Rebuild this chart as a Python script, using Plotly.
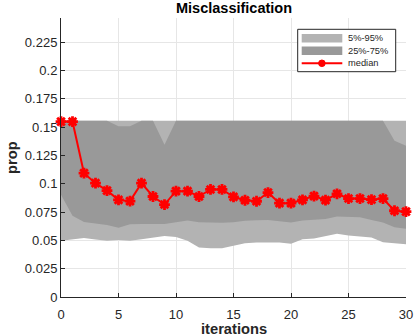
import plotly.graph_objects as go

iterations = list(range(31))
median = [0.155, 0.155, 0.1094, 0.1006, 0.0940, 0.0858, 0.0847, 0.1006, 0.0888, 0.0817,
          0.0935, 0.0935, 0.0888, 0.0950, 0.0950, 0.0885, 0.0855, 0.0846, 0.0923, 0.0829,
          0.0829, 0.0858, 0.0891, 0.0856, 0.0912, 0.0870, 0.0870, 0.0860, 0.0870, 0.0762, 0.0754]
p95 = [0.1558] * 31
p75 = [0.1558, 0.1558, 0.1558, 0.1558, 0.1558, 0.1508, 0.1508, 0.1558, 0.1558, 0.1345,
       0.1558, 0.1558, 0.1558, 0.1558, 0.1558, 0.1558, 0.1558, 0.1558, 0.1558, 0.1558,
       0.1558, 0.1558, 0.1558, 0.1558, 0.1558, 0.1558, 0.1558, 0.1558, 0.1558, 0.1380, 0.1336]
p25 = [0.0903, 0.0718, 0.0662, 0.0648, 0.0637, 0.0612, 0.0643, 0.0646, 0.0649, 0.0646,
       0.0661, 0.0676, 0.0661, 0.0655, 0.0655, 0.0661, 0.0673, 0.0678, 0.0681, 0.0670,
       0.0658, 0.0676, 0.0681, 0.0690, 0.0711, 0.0711, 0.0705, 0.0681, 0.0658, 0.0617, 0.0602]
p5 = [0.0498, 0.0510, 0.0522, 0.0507, 0.0498, 0.0504, 0.0498, 0.0510, 0.0525, 0.0540,
      0.0531, 0.0496, 0.0438, 0.0431, 0.0431, 0.0451, 0.0475, 0.0481, 0.0481, 0.0481,
      0.0470, 0.0510, 0.0516, 0.0534, 0.0558, 0.0543, 0.0534, 0.0525, 0.0484, 0.0478, 0.0466]
ytickvals = [0, 0.025, 0.05, 0.075, 0.1, 0.125, 0.15, 0.175, 0.2, 0.225]
yticktext = ["0", "0.025", "0.05", "0.075", "0.1", "0.125", "0.15", "0.175", "0.2", "0.225"]
xtickvals = [0, 5, 10, 15, 20, 25, 30]
legend_labels = ["5%-95%", "25%-75%", "median"]

LIGHT = "#b3b3b3"
DARK = "#999999"
RED = "#ff0000"
TXT = "#262626"
FONT = "Liberation Sans, Arial, Helvetica, sans-serif"

W, H = 414, 336
ML, MR, MT, MB = 61, 8, 18, 39
PW, PH = W - ML - MR, H - MT - MB

def px(x):
    return (x - ML) / PW

def py(y):
    return (H - MB - y) / PH

fig = go.Figure()
fig.add_trace(go.Scatter(
    x=iterations + iterations[::-1], y=p5 + p95[::-1], fill="toself",
    fillcolor=LIGHT, line=dict(width=0, color=LIGHT), mode="lines",
    hoverinfo="skip", showlegend=False))
fig.add_trace(go.Scatter(
    x=iterations + iterations[::-1], y=p25 + p75[::-1], fill="toself",
    fillcolor=DARK, line=dict(width=0, color=DARK), mode="lines",
    hoverinfo="skip", showlegend=False))
fig.add_trace(go.Scatter(
    x=iterations, y=median, mode="lines+markers",
    line=dict(color=RED, width=2),
    marker=dict(symbol="asterisk-open", size=9, color=RED, line=dict(color=RED, width=2.8)),
    showlegend=False, cliponaxis=False))

# custom legend
shapes = []
annotations = []
lx0, lx1, ly0, ly1 = 297.7, 395.7, 29.3, 71.7
shapes.append(dict(type="rect", xref="paper", yref="paper", x0=px(lx0), x1=px(lx1),
                   y0=py(ly1), y1=py(ly0), line=dict(color=TXT, width=1), fillcolor="white", layer="above"))
rows = [38.3, 50.8, 63.3]
shapes.append(dict(type="rect", xref="paper", yref="paper", x0=px(301.7), x1=px(342.3),
                   y0=py(rows[0] + 4.2), y1=py(rows[0] - 4.2), line=dict(width=0), fillcolor=LIGHT, layer="above"))
shapes.append(dict(type="rect", xref="paper", yref="paper", x0=px(301.7), x1=px(342.3),
                   y0=py(rows[1] + 4.2), y1=py(rows[1] - 4.2), line=dict(width=0), fillcolor=DARK, layer="above"))
shapes.append(dict(type="line", xref="paper", yref="paper", x0=px(301.7), x1=px(342.3),
                   y0=py(rows[2]), y1=py(rows[2]), line=dict(color=RED, width=2), layer="above"))
shapes.append(dict(type="circle", xref="paper", yref="paper", x0=px(321.9 - 3.3), x1=px(321.9 + 3.3),
                   y0=py(rows[2] + 3.3), y1=py(rows[2] - 3.3), line=dict(color=RED, width=1), fillcolor=RED, layer="above"))
for lab, r in zip(legend_labels, rows):
    annotations.append(dict(text=lab, xref="paper", yref="paper", x=px(346), y=py(r),
                            xanchor="left", yanchor="middle", showarrow=False,
                            font=dict(family=FONT, size=9.3, color=TXT)))

# axis titles and title
annotations.append(dict(text="<b>iterations</b>", xref="paper", yref="paper", x=px(233.5), y=py(328.5),
                        xanchor="center", yanchor="middle", showarrow=False,
                        font=dict(family=FONT, size=14.7, color=TXT)))
annotations.append(dict(text="<b>prop</b>", xref="paper", yref="paper", x=px(11.5), y=py(157.5),
                        xanchor="center", yanchor="middle", showarrow=False, textangle=-90,
                        font=dict(family=FONT, size=14.7, color=TXT)))
annotations.append(dict(text="<b>Misclassification</b>", xref="paper", yref="paper", x=px(233.5), y=py(8.5),
                        xanchor="center", yanchor="middle", showarrow=False,
                        font=dict(family=FONT, size=14.5, color="black")))

fig.update_layout(
    width=W, height=H,
    margin=dict(l=ML, r=MR, t=MT, b=MB, pad=0),
    paper_bgcolor="white", plot_bgcolor="white",
    font=dict(family=FONT, color=TXT, size=13),
    xaxis=dict(range=[0, 30], tickvals=xtickvals, ticks="inside", ticklen=4, tickcolor=TXT,
               showline=True, linecolor=TXT, linewidth=1, showgrid=True, gridcolor="#e6e6e6",
               zeroline=False, tickfont=dict(size=13, color=TXT), automargin=False,
               ticklabelstandoff=5),
    yaxis=dict(range=[0, 0.2465], tickvals=ytickvals, ticktext=yticktext, ticks="inside",
               ticklen=4, tickcolor=TXT, showline=True, linecolor=TXT, linewidth=1,
               showgrid=True, gridcolor="#e6e6e6", zeroline=False, tickfont=dict(size=13, color=TXT),
               automargin=False),
    shapes=shapes, annotations=annotations,
)
fig.write_html("out.html", config={"displayModeBar": False, "staticPlot": True},
               post_script="document.body.style.margin='0';document.body.style.overflow='hidden';")
